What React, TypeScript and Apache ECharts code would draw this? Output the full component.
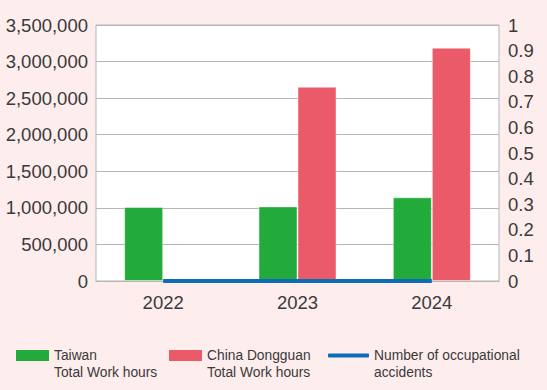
import React, { useEffect, useRef } from "react";
import * as echarts from "echarts";

const categories = ["2022", "2023", "2024"];
const taiwanHours = [1012000, 1020000, 1144000];
const dongguanHours = [0, 2656000, 3190000];
const accidents = [0, 0, 0];
const seriesNames = ["Taiwan Total Work hours", "China Dongguan Total Work hours", "Number of occupational accidents"];
const legendLabels = ["Taiwan\nTotal Work hours", "China Dongguan\nTotal Work hours", "Number of occupational\naccidents"];

const TEXT = "#3a3a3a";
const GRIDC = "#b5b5b5";
const FONT = "'Liberation Sans', Arial, Helvetica, sans-serif";

export default function App() {
  const ref = useRef<HTMLDivElement>(null);
  useEffect(() => {
    if (!ref.current) return;
    const chart = echarts.init(ref.current, undefined, { renderer: "svg" });
    const legendText = {
      color: TEXT,
      fontSize: 13.8,
      fontFamily: FONT,
      lineHeight: 17,
    };
    // leading blank line keeps the first text line level with the icon
    const fmt = (n: string) => "\n" + legendLabels[seriesNames.indexOf(n)];
    const legendBase = {
      top: 330,
      padding: 0,
      textStyle: legendText,
      formatter: fmt,
      selectedMode: false,
    };
    chart.setOption({
      animation: false,
      backgroundColor: "#fdeded",
      textStyle: { fontFamily: FONT },
      grid: {
        left: 96,
        right: 48,
        top: 25,
        bottom: 109,
        show: true,
        backgroundColor: "#ffffff",
        borderColor: GRIDC,
        borderWidth: 1,
      },
      legend: [
        {
          ...legendBase,
          data: [seriesNames[0]],
          left: 16,
          itemWidth: 33,
          itemHeight: 11,
          icon: "rect",
          itemStyle: { borderWidth: 0 },
        },
        {
          ...legendBase,
          data: [seriesNames[1]],
          left: 169,
          itemWidth: 33,
          itemHeight: 11,
          icon: "rect",
          itemStyle: { borderWidth: 0 },
        },
        {
          ...legendBase,
          data: [seriesNames[2]],
          left: 328,
          itemWidth: 41,
          itemHeight: 4,
          icon: "roundRect",
        },
      ],
      xAxis: {
        type: "category",
        data: categories,
        axisLine: { show: true, lineStyle: { color: GRIDC, width: 1 } },
        axisTick: { show: false },
        axisLabel: { color: TEXT, fontSize: 18.5, margin: 12, fontFamily: FONT },
      },
      yAxis: [
        {
          type: "value",
          min: 0,
          max: 3500000,
          interval: 500000,
          axisLine: { show: false },
          axisTick: { show: false },
          splitLine: { show: true, lineStyle: { color: GRIDC, width: 1 } },
          axisLabel: {
            color: TEXT,
            fontSize: 18.5,
            margin: 8,
            fontFamily: FONT,
            formatter: (v: number) => v.toLocaleString("en-US"),
          },
        },
        {
          type: "value",
          min: 0,
          max: 1,
          interval: 0.1,
          axisLine: { show: false },
          axisTick: { show: false },
          splitLine: { show: false },
          axisLabel: {
            color: TEXT,
            fontSize: 18.5,
            margin: 9,
            fontFamily: FONT,
            formatter: (v: number) => String(Math.round(v * 10) / 10),
          },
        },
      ],
      series: [
        {
          name: seriesNames[0],
          type: "bar",
          data: taiwanHours,
          barWidth: 39,
          barGap: "0%",
          itemStyle: { color: "#22ab3a", borderColor: "rgba(255,255,255,0.45)", borderWidth: 1 },
        },
        {
          name: seriesNames[1],
          type: "bar",
          data: dongguanHours,
          barWidth: 39,
          barGap: "0%",
          itemStyle: { color: "#ea5a68", borderColor: "rgba(255,255,255,0.45)", borderWidth: 1 },
        },
        {
          name: seriesNames[2],
          type: "line",
          yAxisIndex: 1,
          data: accidents,
          symbol: "none",
          z: 5,
          lineStyle: { color: "#0d6cb6", width: 4 },
          itemStyle: { color: "#0d6cb6" },
        },
      ],
    });
    return () => chart.dispose();
  }, []);
  return (
    <div
      ref={ref}
      style={{ position: "fixed", left: 0, top: 0, width: 547, height: 390 }}
    />
  );
}
